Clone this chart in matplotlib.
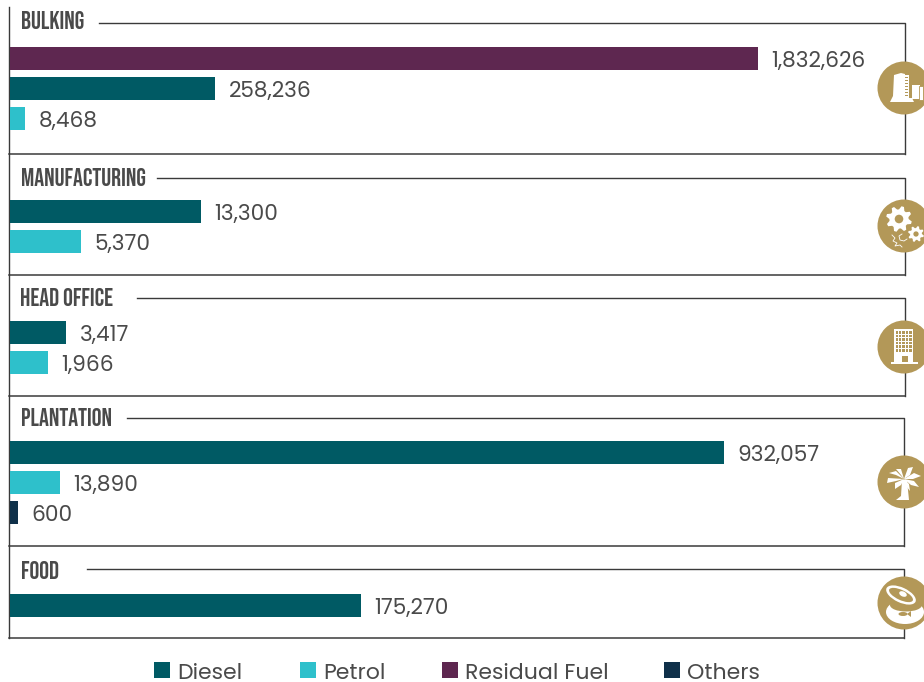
"""Fuel use by business segment, redrawn from the annual report panel."""

import matplotlib

matplotlib.use("Agg")
import matplotlib.font_manager as fm
import matplotlib.pyplot as plt
import numpy as np
from matplotlib.patches import Circle, Ellipse, Polygon, Rectangle

# bars in the source are not to one scale, so drawn length and printed label are kept apart
SECTIONS = ["BULKING", "MANUFACTURING", "HEAD OFFICE", "PLANTATION", "FOOD"]
FUELS = ["Diesel", "Petrol", "Residual Fuel", "Others"]
FUEL_COLORS = {"Diesel": "#005a64", "Petrol": "#2ec0cb", "Residual Fuel": "#5e2750", "Others": "#0f3049"}

BULKING_FUELS = ["Residual Fuel", "Diesel", "Petrol"]
BULKING_LENGTHS = [748, 205, 15]
BULKING_LABELS = ["1,832,626", "258,236", "8,468"]

MANUFACTURING_FUELS = ["Diesel", "Petrol"]
MANUFACTURING_LENGTHS = [191, 71]
MANUFACTURING_LABELS = ["13,300", "5,370"]

HEAD_OFFICE_FUELS = ["Diesel", "Petrol"]
HEAD_OFFICE_LENGTHS = [56, 38]
HEAD_OFFICE_LABELS = ["3,417", "1,966"]

PLANTATION_FUELS = ["Diesel", "Petrol", "Others"]
PLANTATION_LENGTHS = [714, 50, 8]
PLANTATION_LABELS = ["932,057", "13,890", "600"]

FOOD_FUELS = ["Diesel"]
FOOD_LENGTHS = [351]
FOOD_LABELS = ["175,270"]

TEXT = "#4a4a4a"
RULE = "#3a3a3a"
GOLD = "#b39858"
X0 = 10
ICON_X = 904
ICON_R = 26.5

installed = {f.name for f in fm.fontManager.ttflist}
HEAD_FONT = "Bebas Neue" if "Bebas Neue" in installed else "Liberation Sans"
BODY_FONT = "Poppins" if "Poppins" in installed else "Lato"


def _gear(ax, cx, cy, r, teeth=8):
    ang = np.linspace(0, 2 * np.pi, teeth * 4, endpoint=False) + np.pi / teeth / 2
    rad = np.where(np.arange(teeth * 4) % 4 < 2, r, r * 0.74)
    ax.add_patch(Polygon(np.c_[cx + rad * np.cos(ang), cy + rad * np.sin(ang)], fc="white", ec="none", zorder=6))
    ax.add_patch(Circle((cx, cy), r * 0.33, fc=GOLD, ec="none", zorder=7))


def icon_bulking(ax, cx, cy):
    ax.add_patch(Polygon([(cx - 10, cy - 13), (cx - 3, cy - 15), (cx + 1, cy - 14), (cx + 1, cy + 10), (cx + 8, cy + 10), (cx + 10, cy + 14), (cx - 14, cy + 14), (cx - 11, cy + 8)], fc="white", ec="none", zorder=6))
    ax.add_patch(Rectangle((cx + 1, cy - 13), 4, 23, fc="white", ec="none", zorder=6))
    for dy in np.arange(-11, 9, 3):
        ax.add_patch(Rectangle((cx + 1.3, cy + dy), 3, 1, fc=GOLD, ec="none", zorder=7))
    ax.add_patch(Rectangle((cx + 8, cy - 3), 8, 14, fc="white", ec="none", zorder=6))
    ax.add_patch(Rectangle((cx + 15, cy - 2), 4, 14, fc="white", ec=GOLD, lw=0.6, zorder=7))


def icon_gears(ax, cx, cy):
    _gear(ax, cx - 5, cy - 7, 13)
    _gear(ax, cx + 12, cy + 8, 8)
    xs = np.array([-12, -9, -11, -7, -9, -4, -2])
    ys = np.array([9, 12, 15, 17, 20, 19, 21])
    ax.plot(cx + xs, cy + ys, color="white", lw=0.6, zorder=6)
    ax.plot(cx + np.array([-2, -5, -4, 0, 3]), cy + np.array([8, 10, 14, 15, 13]), color="white", lw=0.6, zorder=6)


def icon_office(ax, cx, cy):
    ax.add_patch(Rectangle((cx - 10, cy - 18), 19, 34, fc="white", ec="none", zorder=6))
    ax.add_patch(Rectangle((cx - 13, cy + 15), 27, 2, fc="white", ec="none", zorder=6))
    for row in range(6):
        for col in range(5):
            ax.add_patch(Rectangle((cx - 8.5 + col * 3.4, cy - 16 + row * 3.6), 2.4, 2.5, fc=GOLD, ec="none", zorder=7))
    ax.add_patch(Rectangle((cx - 2, cy + 9), 6, 6, fc=GOLD, ec="none", zorder=7))


def icon_palm(ax, cx, cy):
    ax.add_patch(Polygon([(cx - 2, cy - 2), (cx + 3, cy - 2), (cx + 5, cy + 18), (cx - 8, cy + 18), (cx - 3, cy + 14)], fc="white", ec="none", zorder=6))
    fronds = [
        [(0, -3), (-8, -11), (-15, -9), (-8, -7)],
        [(0, -3), (-16, -4), (-17, 1), (-8, -1)],
        [(0, -3), (-9, 1), (-9, 7), (-3, 3)],
        [(0, -3), (4, -14), (9, -15), (6, -7)],
        [(0, -3), (-3, -13), (-8, -13), (-3, -7)],
        [(0, -3), (10, -9), (17, -6), (9, -3)],
        [(0, -3), (10, -1), (15, 5), (7, 3)],
        [(0, -3), (5, 2), (6, 9), (2, 4)],
    ]
    for frond in fronds:
        ax.add_patch(Polygon([(cx + x, cy + y) for x, y in frond], fc="white", ec="none", zorder=6))


def icon_can(ax, cx, cy):
    # body, then the tilted lid peeled back over it
    ax.add_patch(Ellipse((cx + 1, cy + 9), 38, 24, fc="white", ec="none", zorder=6))
    ax.add_patch(Ellipse((cx + 2, cy + 2), 32, 13, fc=GOLD, ec="none", zorder=7))
    ax.add_patch(Ellipse((cx - 3, cy - 8), 32, 15, angle=25, fc="white", ec="none", zorder=8))
    ax.add_patch(Ellipse((cx - 3, cy - 8), 26, 10, angle=25, fc=GOLD, ec="none", zorder=9))
    ax.add_patch(Ellipse((cx - 1, cy - 9), 8, 5, angle=25, fc="white", ec="none", zorder=10))
    ax.add_patch(Ellipse((cx - 1, cy + 11), 9, 4, fc=GOLD, ec="none", zorder=8))
    ax.add_patch(Polygon([(cx + 3, cy + 11), (cx + 7, cy + 8), (cx + 7, cy + 14)], fc=GOLD, ec="none", zorder=8))


ICONS = [icon_bulking, icon_gears, icon_office, icon_palm, icon_can]

fig = plt.figure(figsize=(9.24, 6.82), dpi=100)
ax = fig.add_axes([0, 0, 1, 1])
ax.set_xlim(0, 924)
ax.set_ylim(682, 0)
ax.axis("off")

# section frame: y of top rule, y of bottom rule, where the top rule starts, heading centre
tops = [23, 178, 298, 418, 569]
bottoms = [154, 275, 396, 546, 638]
rule_starts = [99, 157, 137, 127, 87]
rights = [905, 905, 904.5, 904, 904]
head_y = [20, 177, 297, 417, 570]
icon_y = [88, 226, 347, 482, 603]
first_bar = [58.5, 211.5, 332.5, 452.5, 605.5]
section_fuels = [BULKING_FUELS, MANUFACTURING_FUELS, HEAD_OFFICE_FUELS, PLANTATION_FUELS, FOOD_FUELS]
section_lengths = [BULKING_LENGTHS, MANUFACTURING_LENGTHS, HEAD_OFFICE_LENGTHS, PLANTATION_LENGTHS, FOOD_LENGTHS]
section_labels = [BULKING_LABELS, MANUFACTURING_LABELS, HEAD_OFFICE_LABELS, PLANTATION_LABELS, FOOD_LABELS]

ax.plot([9, 9], [7, 638], color=RULE, lw=1.0, zorder=2)

for i, name in enumerate(SECTIONS):
    ax.plot([rule_starts[i], rights[i], rights[i]], [tops[i], tops[i], bottoms[i]], color=RULE, lw=1.0, zorder=2)
    ax.plot([9, rights[i]], [bottoms[i], bottoms[i]], color=RULE, lw=1.1, zorder=2)
    ax.text(20.5, head_y[i], name, family=HEAD_FONT, fontsize=17.7, color=TEXT, va="center", ha="left")

    ys = [first_bar[i] + 30 * k for k in range(len(section_fuels[i]))]
    colors = [FUEL_COLORS[f] for f in section_fuels[i]]
    ax.barh(ys, section_lengths[i], height=23, left=X0, color=colors, zorder=3)
    for y, length, label in zip(ys, section_lengths[i], section_labels[i]):
        ax.text(X0 + length + 13.5, y + 3.3, label, family=BODY_FONT, fontsize=15.6, color=TEXT, va="center", ha="left")

    ax.add_patch(Circle((ICON_X, icon_y[i]), ICON_R, fc=GOLD, ec="none", zorder=5))
    ICONS[i](ax, ICON_X, icon_y[i])

legend_x = [154, 300, 442, 664]
for x, fuel in zip(legend_x, FUELS):
    ax.add_patch(Rectangle((x, 662), 16, 16, fc=FUEL_COLORS[fuel], ec="none"))
    ax.text(x + 23, 679, fuel, family=BODY_FONT, fontsize=15.8, color=TEXT, va="baseline", ha="left")

fig.savefig("out.png", dpi=100)
